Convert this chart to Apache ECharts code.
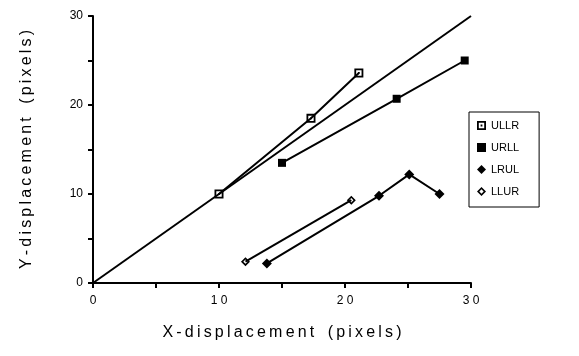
<!DOCTYPE html>
<html>
<head>
<meta charset="utf-8">
<script src="https://cdn.jsdelivr.net/npm/echarts@6/dist/echarts.min.js"></script>
<style>
  html, body { margin: 0; padding: 0; background: #fff; }
  #chart { width: 579px; height: 356px; }
</style>
</head>
<body>
<div id="chart"></div>
<script>
// 数据
const names = ["ULLR", "URLL", "LRUL", "LLUR"];
const ullr = [[10, 10], [17.3, 18.5], [21.1, 23.6]];
const urll = [[15, 13.5], [24.1, 20.7], [29.5, 25]];
const lrul = [[13.8, 2.2], [22.7, 9.8], [25.1, 12.2], [27.5, 10]];
const llur = [[12.1, 2.4], [20.5, 9.3]];
const diagonal = [[0, 0], [30, 30]];

// 标记形状
const sqDot = "path://M0,0H10V10H0Z M2,2V8H8V2Z M4,4H6V6H4Z";
const openDia = "path://M5,0L10,5L5,10L0,5Z M5,2.6L2.6,5L5,7.4L7.4,5Z";
const symbols = [sqDot, "rect", "diamond", openDia];
const sizes = [9, 8, 10, 9];
const seriesData = [ullr, urll, lrul, llur];

// 字间距（细空格）
const spaced = (s) => s.split("").join("\u2009");

const myChart = echarts.init(document.querySelector("#chart"));

const series = seriesData.map((d, i) => {
  return {
    name: names[i],
    type: "line",
    data: d,
    symbol: symbols[i],
    symbolSize: sizes[i],
    showSymbol: true,
    itemStyle: { color: "#000", opacity: 1 },
    lineStyle: { color: "#000", width: 2 },
    z: 3,
  };
});
series.unshift({
  name: "diag",
  type: "line",
  data: diagonal,
  symbol: "none",
  lineStyle: { color: "#000", width: 2 },
  z: 2,
});

const option = {
  animation: false,
  grid: { left: 93, right: 108, top: 16, bottom: 73 },
  legend: {
    orient: "vertical",
    left: 469,
    top: 112,
    padding: [8, 20, 10, 8],
    borderColor: "#000",
    borderWidth: 1,
    itemWidth: 9,
    itemHeight: 9,
    itemGap: 11,
    textStyle: { fontFamily: "Liberation Sans", fontSize: 11, color: "#000" },
    data: names.map((n, i) => ({ name: n, icon: symbols[i] })),
  },
  xAxis: {
    type: "value",
    min: 0,
    max: 30,
    interval: 5,
    name: spaced("X-displacement") + "   " + spaced("(pixels)"),
    nameLocation: "middle",
    nameGap: 42,
    nameTextStyle: { fontFamily: "Liberation Sans", fontSize: 16, color: "#000" },
    axisLine: { lineStyle: { color: "#000", width: 2 } },
    axisTick: { show: true, length: 5, lineStyle: { color: "#000", width: 2 } },
    axisLabel: {
      color: "#000",
      fontFamily: "Liberation Sans",
      fontSize: 12,
      margin: 12,
      formatter: (v) => (v % 10 === 0 ? String(v).split("").join(" ") : ""),
    },
    splitLine: { show: false },
  },
  yAxis: {
    type: "value",
    min: 0,
    max: 30,
    interval: 5,
    name: spaced("Y-displacement") + "   " + spaced("(pixels)"),
    nameLocation: "middle",
    nameGap: 58,
    nameTextStyle: { fontFamily: "Liberation Sans", fontSize: 16, color: "#000" },
    axisLine: { show: true, lineStyle: { color: "#000", width: 2 } },
    axisTick: { show: true, length: 5, lineStyle: { color: "#000", width: 2 } },
    axisLabel: {
      color: "#000",
      fontFamily: "Liberation Sans",
      fontSize: 12,
      margin: 10,
      formatter: (v) => (v % 10 === 0 ? String(v) : ""),
    },
    splitLine: { show: false },
  },
  series: series,
};

myChart.setOption(option);
</script>
</body>
</html>
